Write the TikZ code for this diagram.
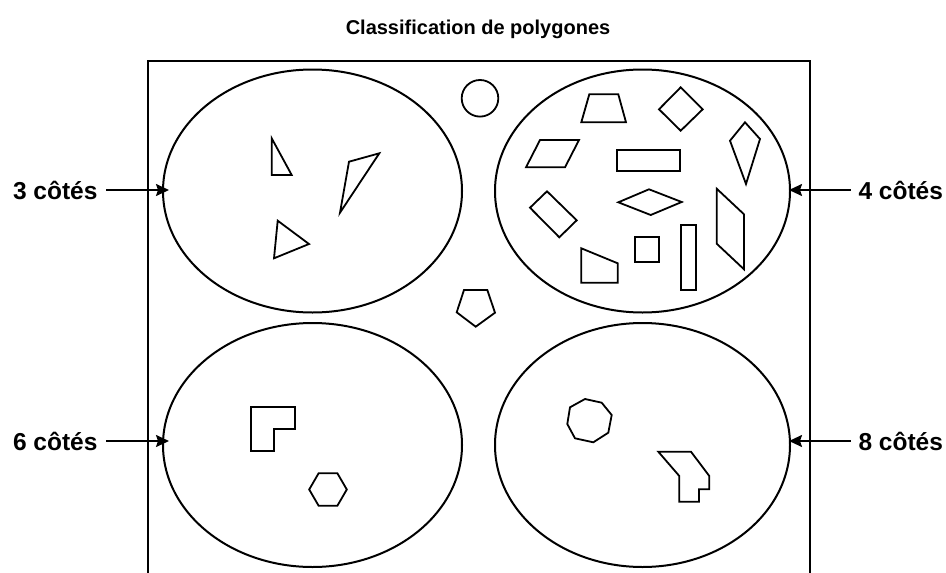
\documentclass[tikz,border=0pt]{standalone}
\usepackage{fontspec}
\setmainfont{Liberation Sans}
\usetikzlibrary{shapes.geometric,arrows.meta}
\begin{document}
\begin{tikzpicture}[x=1pt,y=-1pt,
  line width=2pt,
  poly/.style={draw,line width=1.8pt,line join=miter},
  bubble/.style={draw,ellipse,inner sep=0pt,line width=2pt},
  lab/.style={font=\bfseries\fontsize{24.5}{28}\selectfont,inner sep=0pt},
  head/.style={font=\bfseries\fontsize{20}{24}\selectfont,inner sep=0pt},
  pointer/.style={-{Stealth[length=13pt,width=12pt,inset=2pt]},line width=1.8pt}]
\useasboundingbox (0,0) rectangle (946,573);

% title
\node[head] (title) at (478,29) {Classification de polygones};

% open frame
\coordinate (fbl) at (148,575);
\coordinate (ftl) at (148,61);
\coordinate (ftr) at (810,61);
\coordinate (fbr) at (810,575);
\draw[line width=2pt] (fbl) -- (ftl) -- (ftr) -- (fbr);

% the four sets
\node[bubble,minimum width=299pt,minimum height=243pt] (tri) at (312.5,191) {};
\node[bubble,minimum width=295pt,minimum height=243pt] (quad) at (642.5,191) {};
\node[bubble,minimum width=299pt,minimum height=244pt] (hex) at (312.5,445) {};
\node[bubble,minimum width=295pt,minimum height=244pt] (oct) at (642.5,445) {};

% labels and pointers
\node[lab,anchor=west] (l3) at (12,190) {3 côtés};
\node[lab,anchor=east] (l4) at (944,190) {4 côtés};
\node[lab,anchor=west] (l6) at (12,441) {6 côtés};
\node[lab,anchor=east] (l8) at (944,441) {8 côtés};
\coordinate (t3) at (169,190);
\coordinate (t4) at (789,190);
\coordinate (t6) at (169,441);
\coordinate (t8) at (789,441);
\draw[pointer] ([xshift=8pt]l3.east) -- (t3);
\draw[pointer] ([xshift=-7pt]l4.west) -- (t4);
\draw[pointer] ([xshift=8pt]l6.east) -- (t6);
\draw[pointer] ([xshift=-7pt]l8.west) -- (t8);

% outside the sets: circle and pentagon
\draw[poly] (480,98.3) circle (18.3);
\draw[poly] (464,290) -- (487.3,290) -- (495,312.7) -- (475.7,326.7) -- (456.7,312.3) -- cycle;

% triangles
\draw[poly] (271.7,138.3) -- (271.7,175) -- (291.7,175) -- cycle;
\draw[poly] (349,161.7) -- (379.3,153.3) -- (340,212.7) -- cycle;
\draw[poly] (277.7,220.7) -- (309,244) -- (274,258.3) -- cycle;

% quadrilaterals
\draw[poly] (589.3,94.3) -- (618.3,94.3) -- (626,122.3) -- (581.3,122.3) -- cycle;
\draw[poly] (680.7,87.3) -- (702.7,109.3) -- (680.7,130.7) -- (659,109.3) -- cycle;
\draw[poly] (745,122.3) -- (760,139) -- (746,184) -- (730,140.7) -- cycle;
\draw[poly] (540,140) -- (579,140) -- (565,167.3) -- (526,167.3) -- cycle;
\draw[poly] (616.7,150) rectangle (680,170.7);
\draw[poly] (547,191.3) -- (576.7,220.3) -- (559.3,237.3) -- (530,207.7) -- cycle;
\draw[poly] (618.3,202.3) -- (649,189.3) -- (681.7,202) -- (650.7,215) -- cycle;
\draw[poly] (716.7,188.7) -- (744,214.3) -- (744,269.3) -- (716.7,243.7) -- cycle;
\draw[poly] (635,237.3) rectangle (659.3,262);
\draw[poly] (681.3,225) rectangle (696,290);
\draw[poly] (581.3,248.3) -- (617.7,263.3) -- (617.7,282.7) -- (581.3,282.7) -- cycle;

% hexagons
\draw[poly] (250.7,407.3) -- (295,407.3) -- (295,429.3) -- (274,429.3) -- (274,450.7) -- (250.7,450.7) -- cycle;
\draw[poly] (318.6,473.3) -- (337.4,473.3) -- (346.8,489.5) -- (337.4,505.7) -- (318.6,505.7) -- (309.2,489.5) -- cycle;

% octagons
\draw[poly] (585,399) -- (601.7,402.7) -- (611.7,415) -- (608.3,432.7) -- (593.3,442.3) -- (575,438.3) -- (567.3,424) -- (570,407.3) -- cycle;
\draw[poly] (658.3,451.7) -- (691,451.7) -- (709.3,476) -- (709.3,489.3) -- (699,489.3) -- (699,501.7) -- (679.3,501.7) -- (679.3,476) -- cycle;
\end{tikzpicture}
\end{document}
